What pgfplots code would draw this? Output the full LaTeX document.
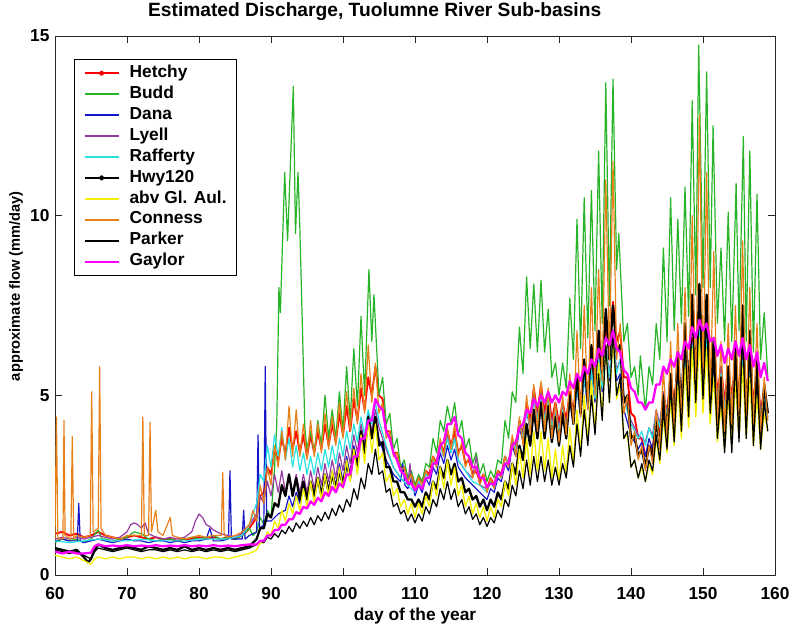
\documentclass[border=0pt]{standalone}
\usepackage{pgfplots}
\pgfplotsset{compat=1.18}
\usepackage{fontspec}
\setmainfont{Liberation Sans}
\definecolor{budd}{RGB}{40,180,40}
\definecolor{dana}{RGB}{20,20,200}
\definecolor{lyell}{RGB}{150,60,160}
\definecolor{raff}{RGB}{40,225,225}
\definecolor{abv}{RGB}{245,240,0}
\definecolor{conn}{RGB}{232,128,26}
\definecolor{gay}{RGB}{255,0,255}
\begin{document}
\begin{tikzpicture}
\begin{axis}[
 scale only axis, width=540pt, height=404.25pt,
 xmin=60, xmax=160, ymin=0, ymax=15,
 xtick={60,70,...,160}, ytick={0,5,10,15},
 tick align=inside, major tick length=5pt, xtick pos=both, ytick pos=both,
 axis line style={line width=0.6pt, black!85},
 every tick/.style={line width=0.6pt, black!85},
 /pgf/number format/assume math mode=true,
 ticklabel style={font=\fontsize{13}{15}\selectfont\bfseries, inner sep=0pt},
 xticklabel style={anchor=base, yshift=-18pt},
 yticklabel style={anchor=east, xshift=-4pt},
 title={Estimated Discharge, Tuolumne River Sub-basins},
 title style={at={(axis description cs:0.444,1)}, anchor=base, yshift=8.25pt, inner sep=0pt, font=\fontsize{14.4}{16}\selectfont\bfseries},
 xlabel={day of the year},
 xlabel style={at={(axis description cs:0.5,0)}, anchor=base, yshift=-33.75pt, inner sep=0pt, font=\fontsize{13}{15}\selectfont\bfseries},
 ylabel={approximate flow (mm/day)},
 ylabel style={at={(axis description cs:-0.0542,0.536)}, anchor=center, inner sep=0pt, font=\fontsize{11}{13}\selectfont\bfseries},
 legend image code/.code={\draw[mark repeat=2,mark phase=2,#1,line width=1.5pt] plot coordinates {(0pt,0pt) (12.75pt,0pt) (25.5pt,0pt)};},
 legend cell align=left,
 legend style={at={(axis description cs:0.0264,0.957)}, anchor=north west, draw=black, fill=white,
   font=\fontsize{13}{15}\selectfont\bfseries, inner xsep=7pt, inner ysep=2.5pt, column sep=7.5pt, row sep=0pt,
   nodes={inner sep=0pt, text height=11pt, text depth=4.7pt}},
 line join=round,
]
% Hetchy
\addplot[red, line width=1.4pt, forget plot] coordinates {
(60,1.15)(61,1.2)(62,1.1)(63,1.15)(64,1.05)(65,1.1)(66,1.2)(67,1.1)(68,1.05)(69,1.0)(70,1.05)(71,1.1)(72,1.05)(73,1.0)(74,1.05)(75,1.0)(76,1.0)(77,0.95)(78,1.0)(79,1.0)(80,1.05)(81,1.0)(82,1.05)(83,1.0)(84,1.05)(85,1.0)(86,1.1)(87,1.3)
(88,1.6)(88.5,2.2)(89,2.3)(89.5,3.0)(90,2.8)(90.5,3.5)(91,3.2)(91.5,3.8)(92,3.4)(92.5,4.1)(93,3.5)(93.5,4.0)(94,3.4)(94.5,3.9)(95,3.3)(95.5,3.9)(96,3.4)(96.5,4.0)(97,3.5)(97.5,4.2)(98,3.6)(98.5,4.2)(99,3.7)(99.5,4.5)(100,3.9)(100.5,4.7)(101,4.0)(101.5,4.9)(102,4.3)(102.5,5.2)(103,4.6)(103.5,5.5)(104,5.0)(104.5,5.8)(105,5.0)(105.5,4.9)(106,4.0)(106.5,4.0)(107,3.4)(107.5,3.4)(108,3.0)(108.5,3.0)(109,2.7)(109.5,2.8)(110,2.5)(110.5,2.7)(111,2.6)(111.5,2.9)(112,2.8)(112.5,3.3)(113,3.1)(113.5,3.7)(114,3.4)(114.5,4.0)(115,3.6)(115.5,4.0)(116,3.4)(116.5,3.6)(117,3.1)(117.5,3.2)(118,2.8)(118.5,2.9)(119,2.6)(119.5,2.8)(120,2.4)(120.5,2.7)(121,2.5)(121.5,2.9)(122,2.8)(122.5,3.3)(123,3.1)(123.5,3.8)(124,3.5)(124.5,4.3)(125,3.9)(125.5,4.8)(126,4.3)(126.5,5.2)(127,4.5)(127.5,5.3)(128,4.5)(128.5,5.1)(129,4.3)(129.5,4.8)(130,4.2)(130.5,4.8)(131,4.3)(131.5,5.1)(132,4.5)(132.5,5.5)(133,4.8)(133.5,5.8)(134,5.0)(134.5,6.0)(135,5.2)(135.5,6.3)(136,5.6)(136.5,7.0)(137,6.2)(137.5,7.6)(138,6.5)(138.5,6.8)(139,5.5)(139.5,5.5)(140,4.5)(140.5,4.4)(141,3.8)(141.5,3.8)(142,3.3)(142.5,3.6)(143,3.5)(143.5,4.3)(144,4.0)(144.5,5.0)(145,4.5)(145.5,5.5)(146,4.8)(146.5,5.8)(147,5.0)(147.5,6.2)(148,5.3)(148.5,6.6)(149,5.6)(149.5,7.2)(150,5.8)(150.5,7.0)(151,5.5)(151.5,6.5)(152,5.0)(152.5,5.8)(153,4.8)(153.5,5.8)(154,4.9)(154.5,6.0)(155,5.0)(155.5,6.3)(156,5.0)(156.5,6.0)(157,4.8)(157.5,5.7)(158,4.5)(158.5,5.2)(159,4.5)};
% Budd
\addplot[budd, line width=0.9pt, forget plot] coordinates {
(60,0.9)(61,1.0)(62,0.95)(63,1.0)(64,0.9)(65,1.0)(66,1.25)(66.5,1.0)(67,1.0)(68,0.95)(69,1.0)(70,1.05)(71,1.2)(72,1.15)(73,1.0)(74,0.95)(75,1.0)(76,1.0)(77,0.95)(78,1.0)(79,1.05)(80,1.0)(81,1.05)(82,1.1)(83,1.0)(84,1.05)(85,1.0)(86,1.1)(87,1.3)(87.5,1.1)
(88,1.2)(88.5,1.6)(89,1.4)(89.5,1.8)(90,1.6)(90.5,3.0)(90.8,4.2)(91.1,8.0)(91.3,7.3)(91.9,11.2)(92.3,9.3)(93.1,13.6)(93.4,9.5)(93.75,11.2)(94.0,9.7)(94.4,6.6)(94.7,4.1)(95,3.5)(95.5,4.0)(96,3.4)(96.5,4.3)(97,3.6)(97.5,5.0)(98,3.8)(98.5,4.6)(99,3.8)(99.5,5.1)(100,4.0)(100.5,5.8)(101,4.3)(101.5,6.3)(102,4.7)(102.5,7.2)(103,5.0)(103.6,8.5)(104,6.5)(104.3,7.8)(105,5.0)(105.5,5.5)(106,4.2)(106.5,4.5)(107,3.5)(107.5,3.8)(108,3.0)(108.5,3.2)(109,2.7)(109.5,2.9)(110,2.5)(110.5,2.8)(111,2.6)(111.5,3.1)(112,3.0)(112.5,3.8)(113,3.4)(113.5,4.3)(114,4.0)(114.5,4.7)(115,4.2)(115.5,4.8)(116,3.9)(116.5,4.3)(117,3.5)(117.5,3.8)(118,3.1)(118.5,3.4)(119,2.8)(119.5,3.1)(120,2.6)(120.5,2.9)(121,2.7)(121.5,3.2)(122,3.1)(122.5,4.3)(123,3.8)(123.5,5.1)(124,4.8)(124.5,6.9)(125,5.6)(125.5,8.3)(126,6.3)(126.5,8.1)(127,6.2)(127.5,8.2)(128,6.2)(128.5,7.4)(129,5.5)(129.5,5.9)(130,5.0)(130.5,5.9)(131,5.2)(131.5,7.7)(132,6.0)(132.5,9.9)(133,6.3)(133.5,10.5)(134,6.6)(134.5,10.7)(135,6.8)(135.5,11.8)(136,7.0)(136.5,13.7)(137,7.5)(137.5,13.8)(138,8.5)(138.3,9.5)(139,6.5)(139.5,7.0)(140,5.5)(140.5,5.8)(141,5.0)(141.3,6.1)(142,4.6)(142.5,5.8)(143,5.3)(143.5,7.0)(144,6.0)(144.5,9.1)(145,6.5)(145.5,10.5)(146,6.8)(146.5,9.9)(147,7.0)(147.5,10.8)(148,7.2)(148.5,13.2)(149,7.8)(149.4,14.75)(150,8.0)(150.5,14.0)(151,8.0)(151.4,12.5)(152,7.0)(152.5,9.1)(153,6.5)(153.5,10.1)(154,6.5)(154.6,10.9)(155,6.8)(155.6,12.2)(156,6.5)(156.5,11.8)(157,6.2)(157.5,10.6)(158,6.0)(158.5,7.3)(159,5.5)};
% Dana
\addplot[dana, line width=0.9pt, forget plot] coordinates {
(60,0.95)(61,1.0)(62,0.95)(63.1,0.95)(63.3,2.0)(63.5,0.95)(64,0.9)(65,0.95)(66,1.0)(67,0.95)(68,0.9)(69,0.95)(70,1.0)(71,0.95)(72,0.95)(73,0.9)(74,0.95)(75,0.95)(76,0.9)(77,0.95)(78,0.9)(79,0.95)(80,0.95)(81,1.0)(81.5,1.3)(82,0.95)(83,0.95)(84.1,1.0)(84.3,2.9)(84.5,1.0)(85,1.0)(86.0,1.0)(86.2,1.8)(86.4,1.0)(87,1.1)(88.0,1.2)(88.2,3.9)(88.4,1.3)(89.0,1.4)(89.2,5.8)(89.4,1.5)(90,1.5)(91,1.7)(92,1.8)(92.5,2.2)(93,1.9)(93.5,2.3)(94,2.0)(94.5,2.5)(95,2.1)(95.5,2.6)(96,2.2)(96.5,2.7)(97,2.3)(97.5,2.8)(98,2.4)(98.5,2.9)(99,2.5)(99.5,3.1)(100,2.6)(100.5,3.3)(101,2.8)(101.5,3.6)(102,3.1)(102.5,4.0)(103,3.5)(103.5,4.3)(104,3.8)(104.5,4.4)(105,3.8)(106,3.2)(107,2.8)(108,2.6)(108.3,3.1)(108.6,2.5)(109,2.4)(109.5,2.7)(110,2.2)(110.5,2.5)(111,2.3)(111.5,2.7)(112,2.5)(112.5,3.0)(113,2.8)(113.5,3.4)(114,3.1)(114.5,3.6)(115,3.2)(115.5,3.5)(116,3.0)(117,2.7)(118,2.5)(119,2.3)(120,2.1)(120.5,2.4)(121,2.3)(121.5,2.7)(122,2.6)(122.5,3.1)(123,2.9)(123.5,3.6)(124,3.3)(124.5,4.1)(125,3.7)(125.5,4.6)(126,4.0)(126.5,5.0)(127,4.2)(127.5,5.2)(128,4.2)(128.5,5.0)(129,4.0)(129.5,4.6)(130,3.9)(130.5,4.6)(131,4.0)(131.5,4.9)(132,4.2)(132.5,5.2)(133,4.4)(133.5,5.5)(134,4.6)(134.5,5.7)(135,4.8)(135.5,6.0)(136,5.1)(136.5,6.3)(137,5.4)(137.5,6.5)(138,5.4)(138.5,5.6)(139,4.6)(140,3.9)(141,3.5)(141.5,3.7)(142,3.3)(142.5,3.8)(143,3.5)(143.5,4.3)(144,3.8)(144.5,4.8)(145,4.1)(145.5,5.2)(146,4.3)(146.5,5.5)(147,4.5)(147.5,5.9)(148,4.8)(148.5,6.3)(149,5.0)(149.5,6.6)(150,5.1)(150.5,6.4)(151,4.8)(151.5,5.9)(152,4.5)(152.5,5.4)(153,4.3)(153.5,5.4)(154,4.4)(154.5,5.6)(155,4.5)(155.5,5.8)(156,4.5)(156.5,5.6)(157,4.3)(157.5,5.3)(158,4.2)(158.5,4.9)(159,4.4)};
% Lyell
\addplot[lyell, line width=0.9pt, forget plot] coordinates {
(60,1.0)(61,1.05)(62,1.0)(63,1.05)(64,1.0)(65,1.05)(66,1.1)(67,1.05)(68,1.0)(69,1.05)(70,1.2)(70.5,1.4)(71,1.45)(71.5,1.4)(72,1.3)(72.5,1.45)(73,1.15)(74,1.05)(75,1.0)(76,1.05)(77,1.0)(78,1.05)(79,1.2)(79.5,1.5)(80,1.7)(80.5,1.6)(81,1.4)(81.5,1.35)(82,1.25)(83,1.15)(84,1.1)(85,1.05)(86,1.15)(87,1.4)(88,1.7)(88.5,2.2)(89,2.0)(89.5,2.6)(90,2.2)(90.5,2.8)(91,2.3)(91.5,2.9)(92,2.3)(92.5,2.8)(93,2.3)(93.5,2.8)(94,2.3)(94.5,2.8)(95,2.3)(95.5,2.9)(96,2.4)(96.5,3.0)(97,2.5)(97.5,3.1)(98,2.6)(98.5,3.2)(99,2.7)(99.5,3.4)(100,2.9)(100.5,3.6)(101,3.1)(101.5,3.9)(102,3.4)(102.5,4.2)(103,3.7)(103.5,4.5)(104,4.0)(104.5,4.6)(105,4.1)(106,3.5)(107,3.0)(108,2.7)(109,2.5)(109.3,3.1)(109.6,2.5)(110,2.4)(110.5,2.6)(111,2.4)(111.5,2.8)(112,2.7)(112.5,3.2)(113,3.0)(113.5,3.6)(114,3.3)(114.5,3.9)(115,3.4)(115.5,3.8)(116,3.2)(117,2.9)(118,2.7)(118.5,3.3)(119,2.5)(120,2.4)(120.5,2.6)(121,2.5)(121.5,2.9)(122,2.7)(122.5,3.3)(123,3.1)(123.5,3.8)(124,3.5)(124.5,4.3)(125,3.9)(125.5,4.6)(126,4.2)(126.5,4.9)(127,4.4)(127.5,5.0)(128,4.4)(128.5,4.9)(129,4.2)(129.5,4.7)(130,4.1)(130.5,4.7)(131,4.2)(131.5,5.0)(132,4.4)(132.5,5.3)(133,4.6)(133.5,5.6)(134,4.8)(134.5,5.8)(135,5.0)(135.5,6.1)(136,5.3)(136.5,6.4)(137,5.6)(137.5,6.7)(138,5.7)(138.5,6.0)(139,5.0)(140,4.3)(141,3.9)(142,3.7)(142.5,4.1)(143,3.9)(143.5,4.6)(144,4.2)(144.5,5.1)(145,4.5)(145.5,5.5)(146,4.7)(146.5,5.8)(147,4.9)(147.5,6.1)(148,5.1)(148.5,6.5)(149,5.4)(149.5,6.9)(150,5.5)(150.5,6.7)(151,5.2)(151.5,6.3)(152,4.9)(152.5,5.8)(153,4.7)(153.5,5.8)(154,4.8)(154.5,6.0)(155,4.9)(155.5,6.1)(156,4.9)(156.5,5.9)(157,4.7)(157.5,5.6)(158,4.5)(158.5,5.1)(159,4.6)};
% Rafferty
\addplot[raff, line width=0.9pt, forget plot] coordinates {
(60,0.95)(62,0.9)(64,0.95)(66,1.0)(68,0.95)(70,0.95)(72,1.0)(74,0.95)(76,0.95)(78,0.95)(80,1.0)(82,1.0)(84,1.0)(86,1.1)(87,1.4)(88,2.0)(88.5,2.8)(89,2.6)(89.5,3.6)(90,3.0)(90.5,3.9)(91,3.3)(91.5,4.1)(92,3.2)(92.5,3.8)(93,3.0)(93.5,3.6)(94,2.9)(94.5,3.4)(95,2.8)(95.5,3.3)(96,2.8)(96.5,3.4)(97,2.9)(97.5,3.5)(98,3.0)(98.5,3.6)(99,3.1)(99.5,3.8)(100,3.3)(100.5,4.0)(101,3.5)(101.5,4.2)(102,3.7)(102.5,4.4)(103,3.9)(103.5,4.6)(104,4.2)(104.5,4.8)(105,4.3)(106,3.6)(107,3.0)(108,2.7)(109,2.5)(110,2.3)(110.5,2.6)(111,2.4)(111.5,2.8)(112,2.7)(112.5,3.2)(113,3.0)(113.5,3.6)(114,3.3)(114.5,3.8)(115,3.4)(115.5,3.8)(116,3.2)(117,2.9)(118,2.6)(119,2.5)(120,2.3)(120.5,2.6)(121,2.4)(121.5,2.8)(122,2.7)(122.5,3.3)(123,3.1)(123.5,3.8)(124,3.5)(124.5,4.2)(125,3.8)(125.5,4.6)(126,4.1)(126.5,4.9)(127,4.3)(127.5,5.0)(128,4.3)(128.5,4.9)(129,4.1)(129.5,4.6)(130,4.0)(130.5,4.6)(131,4.1)(131.5,4.9)(132,4.3)(132.5,5.2)(133,4.5)(133.5,5.5)(134,4.7)(134.5,5.7)(135,4.9)(135.5,6.0)(136,5.2)(136.5,6.4)(137,5.5)(137.5,6.6)(138,5.6)(138.5,6.0)(139,4.9)(140,4.2)(141,3.8)(141.5,4.0)(142,3.6)(142.5,4.1)(143,3.8)(143.5,4.5)(144,4.1)(144.5,5.0)(145,4.4)(145.5,5.4)(146,4.6)(146.5,5.6)(147,4.8)(147.5,6.0)(148,5.0)(148.5,6.4)(149,5.3)(149.5,6.8)(150,5.4)(150.5,6.6)(151,5.1)(151.5,6.2)(152,4.8)(152.5,5.6)(153,4.6)(153.5,5.6)(154,4.7)(154.5,5.8)(155,4.8)(155.5,6.0)(156,4.8)(156.5,5.8)(157,4.6)(157.5,5.5)(158,4.4)(158.5,5.0)(159,4.3)};
% Hwy120
\addplot[black, line width=1.7pt, forget plot] coordinates {
(60,0.75)(61,0.7)(62,0.65)(63,0.7)(64,0.5)(64.6,0.35)(65,0.45)(65.5,0.7)(66,0.85)(67,0.75)(68,0.7)(69,0.75)(70,0.8)(71,0.75)(72,0.7)(73,0.8)(74,0.75)(75,0.7)(76,0.75)(77,0.7)(78,0.8)(79,0.7)(80,0.75)(81,0.7)(82,0.75)(83,0.7)(84,0.75)(85,0.7)(86,0.75)(87,0.8)
(88,1.0)(88.5,1.3)(89,1.3)(89.5,1.7)(90,1.6)(90.5,2.0)(91,1.9)(91.5,2.5)(92,2.2)(92.5,2.8)(93,2.2)(93.5,2.7)(94,2.1)(94.5,2.6)(95,2.1)(95.5,2.6)(96,2.2)(96.5,2.7)(97,2.2)(97.5,2.8)(98,2.3)(98.5,2.8)(99,2.4)(99.5,2.9)(100,2.5)(100.5,3.1)(101,2.7)(101.5,3.5)(102,3.0)(102.5,4.0)(103,3.4)(103.5,4.4)(104,3.8)(104.5,4.4)(105,3.6)(105.5,3.7)(106,3.0)(106.5,3.0)(107,2.6)(107.5,2.6)(108,2.3)(108.5,2.3)(109,2.1)(109.5,2.1)(110,1.9)(110.5,2.1)(111,1.9)(111.5,2.3)(112,2.1)(112.5,2.6)(113,2.4)(113.5,3.0)(114,2.7)(114.5,3.2)(115,2.8)(115.5,3.1)(116,2.6)(116.5,2.7)(117,2.3)(117.5,2.4)(118,2.1)(118.5,2.2)(119,1.9)(119.5,2.1)(120,1.8)(120.5,2.1)(121,1.9)(121.5,2.3)(122,2.1)(122.5,2.6)(123,2.4)(123.5,3.1)(124,2.8)(124.5,3.6)(125,3.2)(125.5,4.2)(126,3.6)(126.5,4.6)(127,3.8)(127.5,4.8)(128,3.8)(128.5,4.7)(129,3.7)(129.5,4.4)(130,3.6)(130.5,4.5)(131,3.8)(131.5,5.0)(132,4.2)(132.5,5.6)(133,4.5)(133.5,6.0)(134,4.8)(134.5,6.4)(135,5.2)(135.5,6.8)(136,5.6)(136.5,7.4)(137,6.0)(137.5,7.5)(138,6.2)(138.5,6.4)(139,4.8)(139.5,5.0)(140,3.8)(140.5,3.9)(141,3.3)(141.5,3.5)(142,3.0)(142.5,3.6)(143,3.3)(143.5,4.3)(144,3.6)(144.5,5.0)(145,4.0)(145.5,5.6)(146,4.3)(146.5,6.2)(147,4.6)(147.5,7.0)(148,5.0)(148.5,7.8)(149,5.4)(149.5,8.1)(150,5.5)(150.5,7.8)(151,5.0)(151.5,6.6)(152,4.2)(152.5,5.5)(153,3.6)(153.5,5.8)(154,3.7)(154.5,6.5)(155,4.0)(155.5,7.5)(156,4.2)(156.5,6.8)(157,4.0)(157.5,6.0)(158,3.8)(158.5,5.3)(159,4.5)};
% abv Gl. Aul.
\addplot[abv, line width=1pt, forget plot] coordinates {
(60,0.55)(61,0.5)(62,0.45)(63,0.5)(64,0.4)(65,0.3)(65.5,0.45)(66,0.5)(67,0.45)(68,0.5)(69,0.45)(70,0.5)(71,0.5)(72,0.45)(73,0.5)(74,0.45)(75,0.5)(76,0.45)(77,0.5)(78,0.45)(79,0.5)(80,0.5)(81,0.45)(82,0.5)(83,0.5)(84,0.45)(85,0.5)(86,0.55)(87,0.6)
(88,0.7)(88.5,0.9)(89,0.9)(89.5,1.2)(90,1.1)(90.5,1.5)(91,1.3)(91.5,1.8)(92,1.5)(92.5,2.0)(93,1.7)(93.5,2.2)(94,1.8)(94.5,2.4)(95,1.9)(95.5,2.6)(96,2.0)(96.5,2.7)(97,2.1)(97.5,2.8)(98,2.2)(98.5,2.9)(99,2.3)(99.5,3.0)(100,2.4)(100.5,3.2)(101,2.6)(101.5,3.5)(102,2.8)(102.5,3.9)(103,3.1)(103.5,4.3)(104,3.4)(104.5,4.2)(105,3.2)(105.5,3.4)(106,2.6)(106.5,2.8)(107,2.2)(107.5,2.4)(108,1.9)(108.5,2.1)(109,1.7)(109.5,2.0)(110,1.6)(110.5,2.0)(111,1.7)(111.5,2.2)(112,1.9)(112.5,2.6)(113,2.2)(113.5,3.0)(114,2.4)(114.5,3.2)(115,2.5)(115.5,3.0)(116,2.2)(116.5,2.5)(117,1.9)(117.5,2.2)(118,1.7)(118.5,2.0)(119,1.6)(119.5,1.9)(120,1.5)(120.5,1.9)(121,1.6)(121.5,2.1)(122,1.9)(122.5,2.6)(123,2.2)(123.5,3.1)(124,2.5)(124.5,3.5)(125,2.7)(125.5,3.8)(126,2.8)(126.5,4.0)(127,2.9)(127.5,4.0)(128,2.9)(128.5,3.8)(129,2.7)(129.5,3.5)(130,2.6)(130.5,3.6)(131,2.8)(131.5,4.1)(132,3.1)(132.5,4.6)(133,3.4)(133.5,5.0)(134,3.7)(134.5,5.4)(135,4.0)(135.5,5.9)(136,4.4)(136.5,6.4)(137,4.8)(137.5,6.6)(138,4.9)(138.5,5.3)(139,3.8)(139.5,3.9)(140,3.0)(140.5,3.2)(141,2.7)(141.5,3.0)(142,2.6)(142.5,3.1)(143,2.8)(143.5,3.8)(144,3.1)(144.5,4.4)(145,3.4)(145.5,4.9)(146,3.6)(146.5,5.3)(147,3.8)(147.5,5.8)(148,4.1)(148.5,6.3)(149,4.4)(149.5,6.6)(150,4.5)(150.5,6.3)(151,4.2)(151.5,5.5)(152,3.7)(152.5,4.7)(153,3.5)(153.5,5.0)(154,3.6)(154.5,5.4)(155,3.8)(155.5,5.8)(156,3.8)(156.5,5.5)(157,3.6)(157.5,5.0)(158,3.5)(158.5,4.5)(159,4.0)};
% Conness
\addplot[conn, line width=0.9pt, forget plot] coordinates {
(60.0,1.0)(60.2,4.4)(60.4,1.0)(61.1,1.0)(61.25,4.3)(61.4,1.1)(62.2,1.0)(62.4,3.85)(62.6,1.0)(63,1.1)(64,1.05)(64.9,1.1)(65.1,5.1)(65.3,1.2)(66.0,1.3)(66.2,5.8)(66.4,1.3)(67,1.1)(68,1.05)(69,1.0)(70,1.1)(71,1.1)(72.0,1.1)(72.2,4.4)(72.4,1.1)(73.0,1.1)(73.2,4.25)(73.4,1.2)(74.0,1.8)(74.3,1.2)(75,1.1)(76.0,1.6)(76.3,1.1)(77,1.05)(78,1.0)(79,1.05)(80,1.1)(81,1.05)(82,1.1)(83.1,1.1)(83.3,2.85)(83.5,1.1)(84,1.05)(85,1.1)(86,1.2)(87,1.4)(87.5,1.8)
(88,1.5)(88.5,2.5)(89,2.0)(89.5,3.0)(90,2.5)(90.5,3.6)(91,3.0)(91.5,4.0)(92,3.2)(92.5,4.7)(93,3.3)(93.5,4.6)(94,3.3)(94.5,4.2)(95,3.2)(95.5,4.3)(96,3.3)(96.5,4.2)(97,3.4)(97.5,4.5)(98,3.5)(98.5,4.4)(99,3.6)(99.5,4.8)(100,3.8)(100.5,5.1)(101,4.0)(101.5,5.2)(102,4.2)(102.5,5.6)(103,4.5)(103.5,6.4)(104,4.8)(104.5,5.9)(105,4.5)(105.5,4.8)(106,3.8)(106.5,4.0)(107,3.3)(107.5,3.4)(108,2.9)(108.5,3.0)(109,2.6)(109.5,2.8)(110,2.4)(110.5,2.7)(111,2.5)(111.5,2.9)(112,2.7)(112.5,3.3)(113,3.0)(113.5,3.8)(114,3.3)(114.5,4.1)(115,3.5)(115.5,4.2)(116,3.3)(116.5,3.7)(117,3.0)(117.5,3.3)(118,2.7)(118.5,3.0)(119,2.5)(119.5,2.8)(120,2.3)(120.5,2.7)(121,2.4)(121.5,2.9)(122,2.7)(122.5,3.3)(123,3.0)(123.5,3.9)(124,3.3)(124.5,4.4)(125,3.6)(125.5,5.0)(126,3.9)(126.5,5.3)(127,4.0)(127.5,5.4)(128,4.0)(128.5,5.2)(129,3.8)(129.5,4.8)(130,3.7)(130.5,5.0)(131,3.9)(131.5,5.6)(132,4.2)(132.5,6.8)(133,4.4)(133.5,7.5)(134,4.6)(134.5,8.0)(135,5.0)(135.5,8.5)(136,5.4)(136.5,11.0)(137,6.0)(137.5,11.5)(138,6.0)(138.5,7.0)(139,4.5)(139.5,5.0)(140,3.6)(140.5,4.0)(141,3.2)(141.5,3.6)(142,2.9)(142.5,3.6)(143,3.1)(143.5,4.6)(144,3.5)(144.5,5.8)(145,3.8)(145.5,6.5)(146,4.0)(146.5,7.0)(147,4.2)(147.5,8.0)(148,4.5)(148.5,10.0)(149,5.0)(149.5,12.8)(150,5.5)(150.5,11.2)(151,5.0)(151.5,9.0)(152,4.2)(152.5,6.5)(153,4.0)(153.5,7.0)(154,4.2)(154.5,7.5)(155,4.4)(155.5,9.3)(156,4.3)(156.5,8.0)(157,4.2)(157.5,7.0)(158,4.0)(158.5,5.5)(159,4.3)};
% Parker
\addplot[black, line width=0.9pt, forget plot] coordinates {
(60,0.7)(61,0.65)(62,0.6)(63,0.65)(64,0.55)(65,0.45)(65.5,0.65)(66,0.75)(67,0.7)(68,0.65)(69,0.7)(70,0.75)(71,0.7)(72,0.65)(73,0.7)(74,0.7)(75,0.65)(76,0.7)(77,0.65)(78,0.7)(79,0.65)(80,0.7)(81,0.65)(82,0.7)(83,0.65)(84,0.7)(85,0.65)(86,0.7)(87,0.75)
(88,0.85)(88.5,0.95)(89,0.9)(89.5,1.05)(90,1.0)(90.5,1.15)(91,1.05)(91.5,1.25)(92,1.15)(92.5,1.35)(93,1.2)(93.5,1.45)(94,1.3)(94.5,1.5)(95,1.35)(95.5,1.6)(96,1.4)(96.5,1.65)(97,1.5)(97.5,1.75)(98,1.55)(98.5,1.85)(99,1.65)(99.5,1.95)(100,1.75)(100.5,2.1)(101,1.9)(101.5,2.4)(102,2.1)(102.5,2.7)(103,2.4)(103.5,3.1)(104,2.8)(104.5,3.5)(105,2.8)(105.5,2.9)(106,2.3)(106.5,2.4)(107,1.9)(107.5,2.0)(108,1.7)(108.5,1.8)(109,1.5)(109.5,1.7)(110,1.45)(110.5,1.7)(111,1.5)(111.5,1.9)(112,1.7)(112.5,2.1)(113,1.9)(113.5,2.4)(114,2.1)(114.5,2.6)(115,2.1)(115.5,2.4)(116,1.9)(116.5,2.1)(117,1.7)(117.5,1.9)(118,1.55)(118.5,1.7)(119,1.4)(119.5,1.6)(120,1.35)(120.5,1.6)(121,1.45)(121.5,1.8)(122,1.6)(122.5,2.1)(123,1.9)(123.5,2.5)(124,2.2)(124.5,2.9)(125,2.4)(125.5,3.2)(126,2.5)(126.5,3.3)(127,2.6)(127.5,3.3)(128,2.6)(128.5,3.2)(129,2.5)(129.5,3.0)(130,2.5)(130.5,3.1)(131,2.7)(131.5,3.6)(132,3.0)(132.5,4.2)(133,3.3)(133.5,4.6)(134,3.6)(134.5,5.0)(135,3.9)(135.5,5.6)(136,4.3)(136.5,6.4)(137,4.8)(137.5,6.8)(138,5.0)(138.5,5.5)(139,3.8)(139.5,4.0)(140,3.0)(140.5,3.2)(141,2.7)(141.5,3.1)(142,2.6)(142.5,3.2)(143,2.9)(143.5,3.9)(144,3.2)(144.5,4.6)(145,3.5)(145.5,5.2)(146,3.7)(146.5,5.8)(147,4.0)(147.5,6.5)(148,4.4)(148.5,7.3)(149,4.8)(149.5,7.6)(150,4.9)(150.5,7.2)(151,4.5)(151.5,6.0)(152,3.8)(152.5,5.0)(153,3.4)(153.5,5.3)(154,3.4)(154.5,6.0)(155,3.7)(155.5,6.8)(156,3.8)(156.5,6.3)(157,3.6)(157.5,5.5)(158,3.5)(158.5,4.8)(159,4.0)};
% Gaylor
\addplot[gay, line width=1.7pt, forget plot] coordinates {
(60,0.65)(61,0.6)(62,0.65)(63,0.6)(64,0.6)(65,0.62)(65.5,0.8)(66,0.85)(67,0.8)(68,0.82)(69,0.8)(70,0.83)(71,0.8)(72,0.82)(73,0.8)(74,0.83)(75,0.8)(76,0.82)(77,0.8)(78,0.83)(79,0.8)(80,0.82)(81,0.8)(82,0.83)(83,0.8)(84,0.82)(85,0.8)(86,0.83)(87,0.85)
(88,0.85)(88.5,0.95)(89,0.95)(89.5,1.1)(90,1.1)(90.5,1.25)(91,1.25)(91.5,1.4)(92,1.4)(92.5,1.55)(93,1.55)(93.5,1.75)(94,1.7)(94.5,1.9)(95,1.85)(95.5,2.05)(96,1.95)(96.5,2.15)(97,2.05)(97.5,2.3)(98,2.2)(98.5,2.45)(99,2.3)(99.5,2.55)(100,2.45)(100.5,2.8)(101,2.8)(101.5,3.3)(102,3.3)(102.5,3.8)(103,3.8)(103.5,4.3)(104,4.3)(104.5,4.9)(105,4.7)(105.5,4.6)(106,4.0)(106.5,3.8)(107,3.4)(107.5,3.2)(108,2.9)(108.5,2.8)(109,2.55)(109.5,2.55)(110,2.35)(110.5,2.5)(111,2.4)(111.5,2.7)(112,2.7)(112.5,3.1)(113,3.1)(113.5,3.6)(114,3.7)(114.5,4.2)(115,4.2)(115.5,4.4)(116,3.9)(116.5,3.8)(117,3.4)(117.5,3.3)(118,3.0)(118.5,3.0)(119,2.7)(119.5,2.7)(120,2.45)(120.5,2.55)(121,2.5)(121.5,2.8)(122,2.8)(122.5,3.1)(123,3.1)(123.5,3.6)(124,3.7)(124.5,4.1)(125,4.2)(125.5,4.6)(126,4.5)(126.5,4.9)(127,4.7)(127.5,5.0)(128,4.8)(128.5,5.1)(129,4.8)(129.5,5.0)(130,4.8)(130.5,5.1)(131,5.0)(131.5,5.4)(132,5.2)(132.5,5.6)(133,5.4)(133.5,5.8)(134,5.6)(134.5,6.0)(135,5.8)(135.5,6.3)(136,6.1)(136.5,6.6)(137,6.4)(137.5,6.8)(138,6.3)(138.5,6.2)(139,5.7)(139.5,5.6)(140,5.2)(140.5,5.1)(141,4.8)(141.5,4.8)(142,4.6)(142.5,4.8)(143,4.8)(143.5,5.3)(144,5.3)(144.5,5.8)(145,5.6)(145.5,6.0)(146,5.8)(146.5,6.2)(147,6.0)(147.5,6.5)(148,6.3)(148.5,6.9)(149,6.6)(149.5,7.1)(150,6.8)(150.5,7.0)(151,6.5)(151.5,6.6)(152,6.1)(152.5,6.4)(153,5.9)(153.5,6.3)(154,6.0)(154.5,6.5)(155,6.1)(155.5,6.6)(156,6.0)(156.5,6.4)(157,5.8)(157.5,6.2)(158,5.5)(158.5,5.9)(159,5.4)};
% legend
\addlegendimage{red, mark=*, mark size=1.3pt}
\addlegendentry{Hetchy}
\addlegendimage{budd}
\addlegendentry{Budd}
\addlegendimage{dana}
\addlegendentry{Dana}
\addlegendimage{lyell}
\addlegendentry{Lyell}
\addlegendimage{raff}
\addlegendentry{Rafferty}
\addlegendimage{black, mark=*, mark size=1.3pt}
\addlegendentry{Hwy120}
\addlegendimage{abv}
\addlegendentry{abv Gl. Aul.}
\addlegendimage{conn}
\addlegendentry{Conness}
\addlegendimage{black}
\addlegendentry{Parker}
\addlegendimage{gay}
\addlegendentry{Gaylor}
\end{axis}
\pgfresetboundingbox
\path[use as bounding box] (current axis.south west) ++(-41.25pt,-39pt) rectangle ++(593.25pt,470.25pt);
\end{tikzpicture}
\end{document}
